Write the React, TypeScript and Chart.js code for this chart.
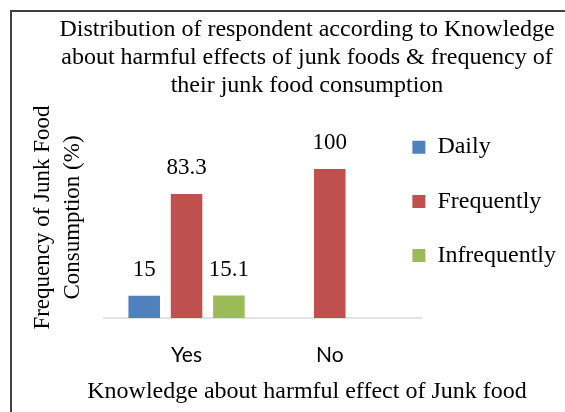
import React, { useEffect, useRef } from 'react';
import { Chart, registerables } from 'chart.js';

Chart.register(...registerables);

const categories = ['Yes', 'No'];
const seriesNames = ['Daily', 'Frequently', 'Infrequently'];
const daily: (number | null)[] = [15, null];
const frequently: (number | null)[] = [83.3, 100];
const infrequently: (number | null)[] = [15.1, null];
const seriesColors = ['#4F81BD', '#C0504D', '#9BBB59'];
const titleLines = [
  'Distribution of respondent according to Knowledge',
  'about harmful effects of junk foods & frequency of',
  'their junk food consumption',
];
const yTitleLines = ['Frequency of Junk Food', 'Consumption (%)'];
const xTitleText = 'Knowledge about harmful effect of Junk food';
const yMin = 0;
const yMax = 135;

const SERIF = '"Liberation Serif", "Times New Roman", serif';

const dataLabelsPlugin = {
  id: 'dataLabels',
  afterDatasetsDraw(chart: any) {
    const ctx = chart.ctx;
    ctx.save();
    ctx.font = `23px ${SERIF}`;
    ctx.fillStyle = '#000';
    ctx.textAlign = 'center';
    ctx.textBaseline = 'middle';
    chart.data.datasets.forEach((ds: any, i: number) => {
      const meta = chart.getDatasetMeta(i);
      meta.data.forEach((bar: any, j: number) => {
        const v = ds.data[j];
        if (v == null) return;
        ctx.fillText(String(v), bar.x, bar.y - 26);
      });
    });
    ctx.restore();
  },
};

const baselinePlugin = {
  id: 'baseline',
  beforeDatasetsDraw(chart: any) {
    const { ctx, chartArea, scales } = chart;
    const y = scales.y.getPixelForValue(0);
    ctx.save();
    ctx.strokeStyle = '#d9d9d9';
    ctx.lineWidth = 1.5;
    ctx.beginPath();
    ctx.moveTo(chartArea.left - 12, y);
    ctx.lineTo(chartArea.right + 21, y);
    ctx.stroke();
    ctx.restore();
  },
};

export default function App() {
  const ref = useRef<HTMLCanvasElement | null>(null);

  useEffect(() => {
    if (!ref.current) return;
    const seriesData = [daily, frequently, infrequently];
    const chart = new Chart(ref.current, {
      type: 'bar',
      data: {
        labels: categories,
        datasets: seriesNames.map((name, i) => ({
          label: name,
          data: seriesData[i] as any,
          backgroundColor: seriesColors[i],
          borderWidth: 0,
          categoryPercentage: 0.887,
          barPercentage: 0.745,
        })),
      },
      options: {
        responsive: false,
        animation: false,
        layout: { padding: { left: 38, right: 0, top: 0, bottom: 0 } },
        plugins: {
          title: {
            display: true,
            text: titleLines,
            color: '#000',
            font: { family: SERIF, size: 24, weight: 'normal', lineHeight: 28 / 24 },
            padding: { top: 6, bottom: 17 },
          },
          subtitle: {
            display: true,
            position: 'bottom',
            text: xTitleText,
            color: '#000',
            font: { family: SERIF, size: 24, weight: 'normal', lineHeight: 1.2 },
            padding: { top: -14.4, bottom: 5.6 },
          },
          legend: {
            position: 'right',
            align: 'center',
            maxWidth: 200,
            labels: {
              boxWidth: 13,
              boxHeight: 13,
              padding: 11,
              color: '#000',
              font: { family: SERIF, size: 24, lineHeight: 1.8 },
              generateLabels: (chart: any) =>
                (Chart.defaults.plugins.legend.labels.generateLabels as any)(chart).map((item: any) => ({
                  ...item,
                  text: [item.text],
                })),
            },
          },
          tooltip: { enabled: false },
        },
        scales: {
          x: {
            grid: { display: false, drawTicks: false },
            border: { display: false },
            ticks: { padding: 24.4, color: '#000', font: { family: 'Lato', size: 21 } },
          },
          y: {
            min: yMin,
            max: yMax,
            grid: { display: false, drawTicks: false },
            border: { display: false },
            ticks: { display: false },
            title: {
              display: true,
              text: yTitleLines,
              color: '#000',
              font: { family: SERIF, size: 23, lineHeight: 1.29 },
              padding: { top: -20, bottom: 27.6 },
            },
          },
        },
      } as any,
      plugins: [baselinePlugin, dataLabelsPlugin],
    });
    return () => chart.destroy();
  }, []);

  return (
    <div
      style={{
        position: 'fixed',
        left: 0,
        top: 0,
        width: 565,
        height: 412,
        overflow: 'hidden',
        background: '#fff',
      }}
    >
      <canvas
        ref={ref}
        width={556}
        height={402}
        style={{ position: 'absolute', left: 10, top: 10, width: 556, height: 402 }}
      />
      <div
        style={{
          position: 'absolute',
          left: 10,
          top: 10,
          width: 700,
          height: 600,
          borderLeft: '2px solid #404040',
          borderTop: '2px solid #404040',
          pointerEvents: 'none',
        }}
      />
    </div>
  );
}
